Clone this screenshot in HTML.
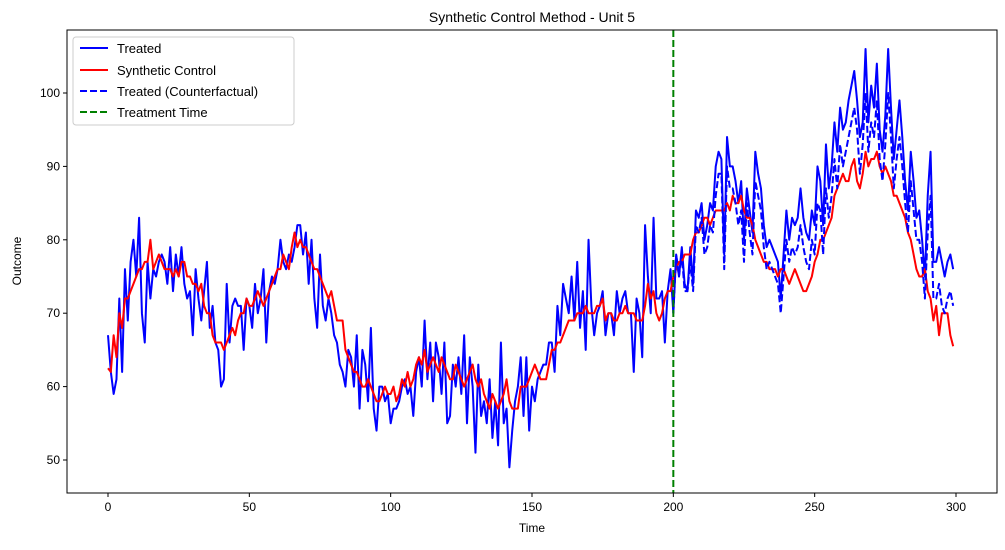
<!DOCTYPE html>
<html><head><meta charset="utf-8"><style>
body{margin:0;background:#fff;}
svg{font-family:"Liberation Sans","DejaVu Sans",sans-serif;}
</style></head><body>
<svg id="chart" width="1005" height="545" xmlns="http://www.w3.org/2000/svg">
<rect width="1005" height="545" fill="#fff"/>
<text x="532" y="22" font-size="14" text-anchor="middle">Synthetic Control Method - Unit 5</text>
<g id="axes"></g>
<g id="series"></g>
<rect x="67" y="30" width="930" height="463" fill="none" stroke="#000" stroke-width="1"/>
<text x="532" y="532" font-size="12" text-anchor="middle">Time</text>
<text x="21" y="261" font-size="12" text-anchor="middle" transform="rotate(-90 21 261)">Outcome</text>
<g>
<rect x="73" y="37" width="221" height="88" rx="3" fill="#fff" fill-opacity="0.8" stroke="#ccc"/>
<g><line x1="80" y1="48" x2="108" y2="48" stroke="#0000ff" stroke-width="2"/><text x="117" y="53" font-size="13">Treated</text></g>
<g><line x1="80" y1="70" x2="108" y2="70" stroke="#ff0000" stroke-width="2"/><text x="117" y="75" font-size="13">Synthetic Control</text></g>
<g><line x1="80" y1="91" x2="108" y2="91" stroke="#0000ff" stroke-width="2" stroke-dasharray="7,3"/><text x="117" y="96" font-size="13">Treated (Counterfactual)</text></g>
<g><line x1="80" y1="112" x2="108" y2="112" stroke="#008000" stroke-width="2" stroke-dasharray="7,3"/><text x="117" y="117" font-size="13">Treatment Time</text></g>
</g>
</svg>
<script>
const xTicks=[0,50,100,150,200,250,300];
const yTicks=[50,60,70,80,90,100];
const treatmentTime=200;
const treated=[67,62,59,61,72,62,76,69,77,80,75,83,70,66,77,72,76,75,77,78,77,74,79,73,78,75,79,74,72,73,67,76,72,69,73,77,68,71,66,65,60,61,74,66,71,72,71,71,65,72,71,68,74,70,72,76,66,73,75,74,76,80,77,76,78,77,79,82,82,78,81,74,80,72,68,78,71,69,72,70,67,66,63,62,60,65,64,60,67,57,65,63,58,68,57,54,60,60,58,59,55,57,57,58,60,61,59,60,56,62,64,60,69,61,66,58,66,64,59,66,55,56,63,60,64,59,67,55,64,60,51,63,56,58,55,61,53,58,52,66,55,57,49,54,58,60,64,56,64,54,60,58,61,62,63,63,66,66,62,71,67,74,72,70,75,69,77,68,73,65,80,71,67,70,71,73,67,70,70,67,73,70,72,73,70,70,62,72,70,64,82,75,70,83,72,72,73,66,73,76,70,78,75,79,74,73,79,74,84,83,85,80,82,85,84,90,92,91,78,94,90,90,88,85,88,80,87,84,81,92,89,87,82,79,80,79,78,77,72,78,84,80,83,82,83,87,83,81,80,84,82,90,88,82,93,87,90,96,92,98,95,96,99,101,103,99,94,96,106,96,101,98,104,95,92,97,106,98,91,95,99,94,88,84,92,88,83,84,80,75,86,92,77,77,79,77,75,77,78,76];
const synthetic=[62.5,62,67,64,70,68,72,72,73,74,75,76,76,77,77,80,76,77,78,77,76,76,76,75,76,75,77,77,75,75,74,74,73,74,71,70,70,67,66,66,66,65,66,67,68,67,69,70,70,72,71,71,72,73,72,71,72,73,74,75,76,76,78,77,76,79,81,79,80,79,79,78,77,76,76,75,74,73,72,73,71,69,69,69,65,64,63,62,62,61,60,60,61,60,59,58,58,59,60,59,59,60,58,59,61,60,62,60,61,63,64,63,65,62,63,64,63,62,64,63,62,61,61,63,62,61,60,61,62,63,61,60,61,59,58,57,59,58,57,58,59,61,58,57,57,57,60,60,60,61,62,63,62,61,61,61,63,65,65,66,66,67,68,69,69,69,70,70,70,71,70,70,70,71,71,72,69,70,70,69,69,70,70,71,70,70,70,69,69,69,71,74,72,73,70,69,70,72,73,73,75,76,77,77,78,78,78,80,81,81,82,83,83,82,83,84,84,84,84,85,84,86,85,85,86,84,83,83,82,80,79,78,77,77,76,76,76,75,76,76,75,74,75,76,75,74,73,73,74,75,77,78,80,80,81,82,83,86,87,88,89,88,88,90,91,88,87,89,92,90,91,91,92,90,89,90,89,88,86,86,85,84,83,81,80,78,76,75,75,76,73,72,69,71,67,70,70,70,67,65.5];
const counterfactual=[70,78,75,78,73,73,77,73,82,81,83,78,79,82,81,86,89,89,76,90,87,87,85,82,84,77,85,81,78,88,86,84,79,76,77,76,75,74,70,75,80,77,79,78,79,82,79,77,76,80,78,85,84,78,87,83,86,91,87,93,90,92,94,96,98,95,89,93,100,92,96,94,99,91,88,93,100,94,87,91,94,90,85,81,88,84,80,80,77,72,81,86,72,72,74,71,70,72,73,71];
const xs=t=>108+t*(956-108)/300;
const ys=v=>460-(v-50)*(460-93)/50;
const NS="http://www.w3.org/2000/svg";
const axes=document.getElementById('axes');
const ser=document.getElementById('series');
function mk(tag,attrs,parent){const e=document.createElementNS(NS,tag);for(const k in attrs)e.setAttribute(k,attrs[k]);parent.appendChild(e);return e;}
xTicks.forEach(t=>{
  const g=mk('g',{},axes);
  
  
  mk('line',{x1:xs(t),x2:xs(t),y1:493,y2:497,stroke:'#000'},g);
  const tx=mk('text',{x:xs(t),y:511,'font-size':12,'text-anchor':'middle'},g);tx.textContent=t;
});
yTicks.forEach(v=>{
  const g=mk('g',{},axes);
  
  
  mk('line',{x1:63,x2:67,y1:ys(v),y2:ys(v),stroke:'#000'},g);
  const tx=mk('text',{x:60,y:ys(v)+4,'font-size':12,'text-anchor':'end'},g);tx.textContent=v;
});
function line(arr,off,color,dash,name){
  const d=arr.map((v,i)=>(i?'L':'M')+xs(i+off).toFixed(2)+','+ys(v).toFixed(2)).join('');
  const p=mk('path',{d:d,fill:'none',stroke:color,'stroke-width':2,'stroke-linejoin':'round'},ser);
  if(dash)p.setAttribute('stroke-dasharray',dash);
  
  
}
line(treated,0,'#0000ff',null,'treated-line');
line(synthetic,0,'#ff0000',null,'synthetic-control-line');
line(counterfactual,treatmentTime,'#0000ff','7,3','counterfactual-line');
const vl=mk('line',{x1:xs(treatmentTime),x2:xs(treatmentTime),y1:30,y2:493,stroke:'#008000','stroke-width':2,'stroke-dasharray':'7,3'},ser);


</script>
</body></html>
